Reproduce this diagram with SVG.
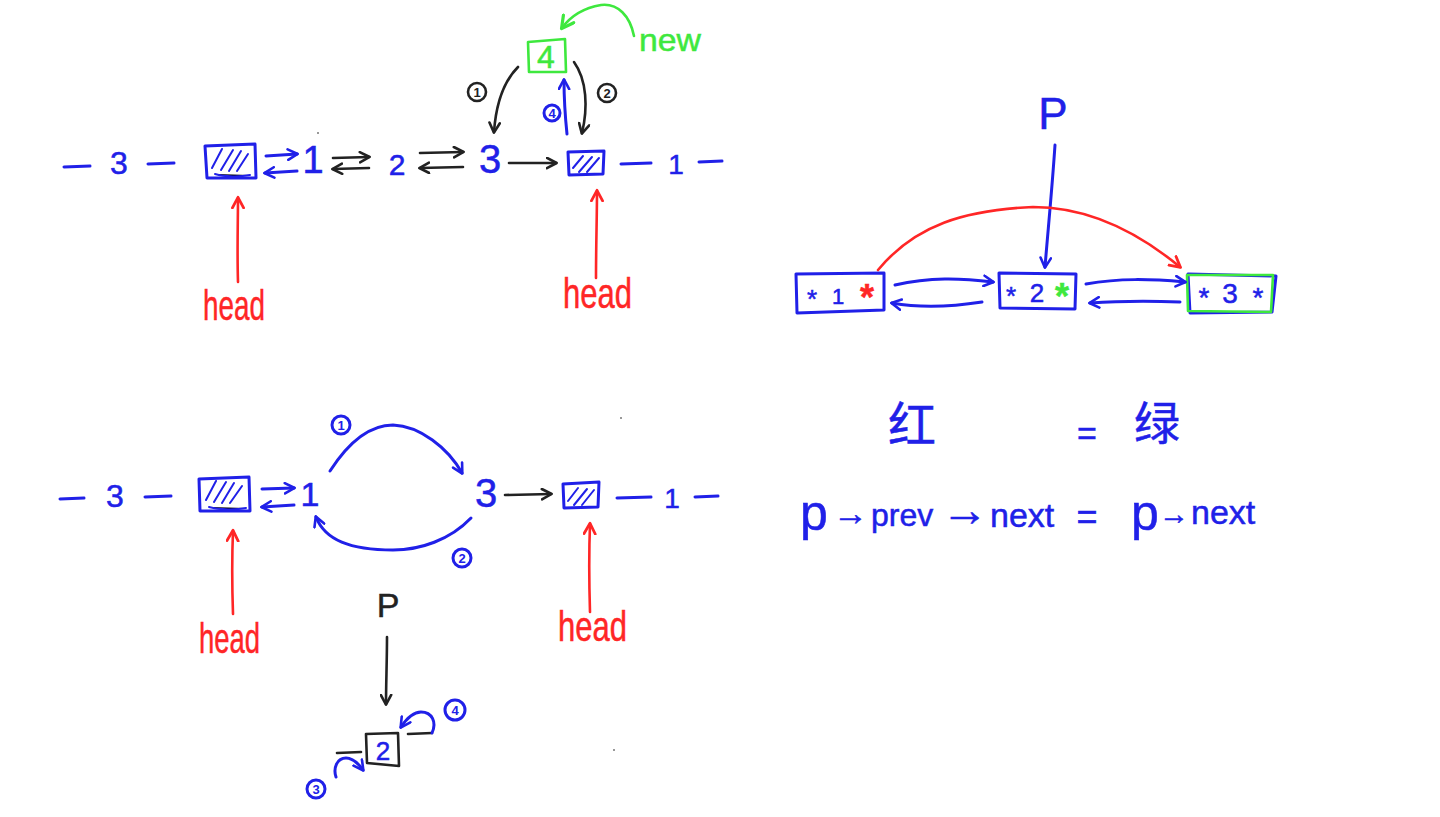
<svg xmlns="http://www.w3.org/2000/svg" width="1440" height="817" viewBox="0 0 1440 817">
<style>
  .b{stroke:#2020e8;fill:none;stroke-width:3;stroke-linecap:round;stroke-linejoin:round}
  .k{stroke:#222;fill:none;stroke-width:2.6;stroke-linecap:round;stroke-linejoin:round}
  .r{stroke:#ff2626;fill:none;stroke-width:2.6;stroke-linecap:round;stroke-linejoin:round}
  .g{stroke:#3ee83e;fill:none;stroke-width:2.6;stroke-linecap:round;stroke-linejoin:round}
  .h{stroke:#2020e8;stroke-width:2;stroke-linecap:round}
  text{font-family:"Liberation Sans","Noto Sans CJK SC",sans-serif}
  .tb{fill:#2020e8;stroke:#2020e8;stroke-width:0.5}
  .tk{fill:#222;stroke:#222;stroke-width:0.5}
  .tr{fill:#ff2626;stroke:#ff2626;stroke-width:0.5}
  .tg{fill:#3ee83e;stroke:#3ee83e;stroke-width:0.5}
  .n{font-size:32px;text-anchor:middle}
  .c{font-size:13px;text-anchor:middle;font-weight:bold;stroke-width:0}
</style>
<defs>
  <marker id="mb" viewBox="0 0 10 10" refX="8" refY="5" markerWidth="13" markerHeight="13" markerUnits="userSpaceOnUse" orient="auto"><path d="M1,1 L8.5,5 L1,9" fill="none" stroke="#2020e8" stroke-width="2" stroke-linecap="round" stroke-linejoin="round"/></marker>
  <marker id="mk" viewBox="0 0 10 10" refX="8" refY="5" markerWidth="13" markerHeight="13" markerUnits="userSpaceOnUse" orient="auto"><path d="M1,1 L8.5,5 L1,9" fill="none" stroke="#222" stroke-width="2" stroke-linecap="round" stroke-linejoin="round"/></marker>
  <marker id="mr" viewBox="0 0 10 10" refX="8" refY="5" markerWidth="14" markerHeight="14" markerUnits="userSpaceOnUse" orient="auto"><path d="M1,1 L8.5,5 L1,9" fill="none" stroke="#ff2626" stroke-width="2" stroke-linecap="round" stroke-linejoin="round"/></marker>
  <marker id="mg" viewBox="0 0 10 10" refX="8" refY="5" markerWidth="16" markerHeight="16" markerUnits="userSpaceOnUse" orient="auto"><path d="M1,1 L8.5,5 L1,9" fill="none" stroke="#3ee83e" stroke-width="2" stroke-linecap="round" stroke-linejoin="round"/></marker>
</defs>
<rect width="1440" height="817" fill="#fff"/>

<!-- ===== Top-left list ===== -->
<g id="top-left-prefix">
  <path class="b" d="M64,167 L90,166"/>
  <text class="tb n" x="119" y="174">3</text>
  <path class="b" d="M148,164 L174,163"/>
</g>
<g id="top-head1-box">
  <path class="b" d="M205,146 L255,144 L256,178 L207,178 Z"/>
  <path class="h" d="M212,168 L222,149 M221,170 L233,150 M229,171 L241,151 M237,171 L248,154 M215,174 C225,177 240,177 250,175"/>
</g>
<g id="top-n1"><text class="tb" x="313" y="173" font-size="38" text-anchor="middle">1</text></g>
<g id="top-n2"><text class="tb" x="397" y="175" font-size="30" text-anchor="middle">2</text></g>
<g id="top-n3"><text class="tb" x="490" y="173" font-size="40" text-anchor="middle">3</text></g>
<g id="top-head2-box">
  <path class="b" d="M568,152 L604,151 L603,174 L569,175 Z"/>
  <path class="h" d="M573,168 L583,156 M579,172 L592,157 M587,172 L599,158"/>
</g>
<g id="top-left-suffix">
  <path class="b" d="M621,164 L651,163"/>
  <text class="tb" x="676" y="174" font-size="28" text-anchor="middle">1</text>
  <path class="b" d="M699,162 L722,161"/>
</g>
<g id="top-new-node">
  <path class="g" d="M528,42 L565,39 L566,72 L529,72 Z"/>
  <text class="tg" x="546" y="68" font-size="32" text-anchor="middle">4</text>
</g>
<g id="top-new-label"><text class="tg" x="639" y="51" font-size="32" textLength="62" lengthAdjust="spacingAndGlyphs">new</text></g>
<g id="top-head1-label"><text class="tr" x="203" y="320" font-size="42" textLength="62" lengthAdjust="spacingAndGlyphs">head</text></g>
<g id="top-head2-label"><text class="tr" x="563" y="308" font-size="42" textLength="69" lengthAdjust="spacingAndGlyphs">head</text></g>
<g id="top-step-labels">
  <circle class="k" cx="477" cy="92" r="9" stroke-width="2"/><text class="tk c" x="477" y="97">1</text>
  <circle class="k" cx="607" cy="93" r="9" stroke-width="2"/><text class="tk c" x="607" y="98">2</text>
  <circle class="b" cx="552" cy="113" r="8" stroke-width="2"/><text class="tb c" x="552" y="118">4</text>
</g>

<!-- ===== Top-right structure ===== -->
<g id="tr-p"><text class="tb" x="1053" y="129" font-size="44" text-anchor="middle">P</text></g>
<g id="tr-node1">
  <path class="b" d="M796,274 L884,273 L884,310 L797,313 Z"/>
  <text class="tb" x="812" y="308" font-size="26" text-anchor="middle">*</text>
  <text class="tb" x="838" y="304" font-size="22" text-anchor="middle">1</text>
  <text class="tr" x="867" y="310" font-size="36" font-weight="bold" text-anchor="middle">*</text>
</g>
<g id="tr-node2">
  <path class="b" d="M999,273 L1076,274 L1075,309 L1000,308 Z"/>
  <text class="tb" x="1011" y="305" font-size="26" text-anchor="middle">*</text>
  <text class="tb" x="1037" y="302" font-size="26" text-anchor="middle">2</text>
  <text class="tg" x="1062" y="309" font-size="36" font-weight="bold" text-anchor="middle">*</text>
</g>
<g id="tr-node3">
  <path class="b" d="M1188,274 L1276,276 L1272,312 L1190,313 Z"/>
  <path class="g" stroke-width="3.5" d="M1187,275 L1273,275 L1271,312 L1188,311 Z"/>
  <text class="tb" x="1204" y="307" font-size="28" text-anchor="middle">*</text>
  <text class="tb" x="1230" y="303" font-size="28" text-anchor="middle">3</text>
  <text class="tb" x="1258" y="307" font-size="28" text-anchor="middle">*</text>
</g>
<g id="tr-eq1">
  <text class="tb" x="912" y="442" font-size="48" text-anchor="middle">红</text>
  <text class="tb" x="1087" y="445" font-size="34" text-anchor="middle">=</text>
  <text class="tb" x="1157" y="440" font-size="46" text-anchor="middle">绿</text>
</g>
<g id="tr-eq2" class="tb">
  <text x="800" y="530" font-size="50">p</text>
  <text x="833" y="525" font-size="35">→</text>
  <text x="871" y="526" font-size="32">prev</text>
  <text x="941" y="526" font-size="47">→</text>
  <text x="990" y="527" font-size="34">next</text>
  <text x="1087" y="529" font-size="36" text-anchor="middle">=</text>
  <text x="1131" y="530" font-size="50">p</text>
  <text x="1159" y="524" font-size="30">→</text>
  <text x="1191" y="524" font-size="34">next</text>
</g>

<!-- ===== Bottom-left list ===== -->
<g id="bl-prefix">
  <path class="b" d="M60,499 L84,498"/>
  <text class="tb n" x="115" y="507">3</text>
  <path class="b" d="M145,497 L171,496"/>
</g>
<g id="bl-head1-box">
  <path class="b" d="M199,479 L249,477 L250,511 L200,511 Z"/>
  <path class="h" d="M206,500 L216,481 M214,502 L226,482 M222,503 L234,483 M230,503 L242,486 M209,507 C220,510 236,510 246,508"/>
</g>
<g id="bl-n1"><text class="tb" x="310" y="506" font-size="34" text-anchor="middle">1</text></g>
<g id="bl-n3"><text class="tb" x="486" y="507" font-size="40" text-anchor="middle">3</text></g>
<g id="bl-head2-box">
  <path class="b" d="M563,484 L599,482 L598,507 L564,508 Z"/>
  <path class="h" d="M568,501 L578,488 M574,505 L587,489 M582,505 L594,490"/>
</g>
<g id="bl-suffix">
  <path class="b" d="M617,498 L651,497"/>
  <text class="tb" x="672" y="508" font-size="28" text-anchor="middle">1</text>
  <path class="b" d="M695,497 L718,496"/>
</g>
<g id="bl-head1-label"><text class="tr" x="199" y="653" font-size="42" textLength="61" lengthAdjust="spacingAndGlyphs">head</text></g>
<g id="bl-head2-label"><text class="tr" x="558" y="641" font-size="42" textLength="69" lengthAdjust="spacingAndGlyphs">head</text></g>
<g id="bl-step-labels">
  <circle class="b" cx="341" cy="425" r="9" stroke-width="2"/><text class="tb c" x="341" y="430">1</text>
  <circle class="b" cx="462" cy="558" r="9" stroke-width="2"/><text class="tb c" x="462" y="563">2</text>
  <circle class="b" cx="455" cy="710" r="10" stroke-width="2"/><text class="tb c" x="455" y="715">4</text>
  <circle class="b" cx="316" cy="789" r="9" stroke-width="2"/><text class="tb c" x="316" y="794">3</text>
</g>
<g id="bl-p"><text class="tk" x="388" y="617" font-size="34" text-anchor="middle">P</text></g>
<g id="bl-removed-node">
  <path class="k" d="M366,734 L398,733 L399,766 L367,763 Z"/>
  <text class="tb" x="383" y="760" font-size="26" text-anchor="middle">2</text>
  <path class="k" d="M337,753 L361,752"/>
  <path class="k" d="M408,734 L432,733"/>
</g>
<g id="stray-dots" fill="#777">
  <circle cx="621" cy="418" r="1"/>
  <circle cx="614" cy="750" r="1"/>
  <circle cx="318" cy="133" r="1"/>
</g>

<!-- ===== Connectors ===== -->
<g id="connectors">
  <path class="b" d="M266,156 L297,154" marker-end="url(#mb)"/>
  <path class="b" d="M297,171 L265,173" marker-end="url(#mb)"/>
  <path class="k" d="M333,158 L369,157" marker-end="url(#mk)"/>
  <path class="k" d="M369,168 L333,169" marker-end="url(#mk)"/>
  <path class="k" d="M420,153 L463,152" marker-end="url(#mk)"/>
  <path class="k" d="M463,167 L420,168" marker-end="url(#mk)"/>
  <path class="k" d="M509,163 L556,163" marker-end="url(#mk)"/>
  <path class="g" d="M634,36 C630,16 618,3 601,5 C583,8 570,17 562,28" marker-end="url(#mg)"/>
  <path class="k" d="M518,67 C503,82 496,104 494,132" marker-end="url(#mk)"/>
  <path class="k" d="M574,62 C587,80 588,108 582,133" marker-end="url(#mk)"/>
  <path class="b" d="M567,134 C565,115 564,96 564,80" marker-end="url(#mb)"/>
  <path class="r" d="M238,282 C237,250 238,220 238,198" marker-end="url(#mr)"/>
  <path class="r" d="M596,278 C596,245 597,215 597,191" marker-end="url(#mr)"/>
  <path class="b" d="M1055,145 C1052,190 1048,230 1045,267" marker-end="url(#mb)"/>
  <path class="b" d="M895,285 C930,277 960,278 993,282" marker-end="url(#mb)"/>
  <path class="b" d="M982,302 C950,307 920,308 892,303" marker-end="url(#mb)"/>
  <path class="b" d="M1086,284 C1120,278 1150,279 1185,282" marker-end="url(#mb)"/>
  <path class="b" d="M1180,302 C1150,301 1120,301 1090,303" marker-end="url(#mb)"/>
  <path class="r" d="M878,270 C915,225 965,210 1033,207 C1095,207 1145,238 1180,267" marker-end="url(#mr)"/>
  <path class="b" d="M262,489 L294,488" marker-end="url(#mb)"/>
  <path class="b" d="M294,505 L262,507" marker-end="url(#mb)"/>
  <path class="k" d="M505,495 L551,494" marker-end="url(#mk)"/>
  <path class="b" d="M330,471 C350,440 372,425 393,425 C420,426 448,448 462,473" marker-end="url(#mb)"/>
  <path class="b" d="M471,518 C450,540 420,550 393,550 C350,550 325,540 316,517" marker-end="url(#mb)"/>
  <path class="r" d="M233,614 C232,585 232,555 233,531" marker-end="url(#mr)"/>
  <path class="r" d="M590,612 C589,580 589,550 590,524" marker-end="url(#mr)"/>
  <path class="k" d="M387,637 C387,660 386,685 386,704" marker-end="url(#mk)"/>
  <path class="b" d="M432,733 C437,722 432,712 421,712 C413,712 407,718 401,727" marker-end="url(#mb)"/>
  <path class="b" d="M336,777 C333,768 337,758 346,758 C353,758 358,763 363,770" marker-end="url(#mb)"/>
</g>
</svg>
